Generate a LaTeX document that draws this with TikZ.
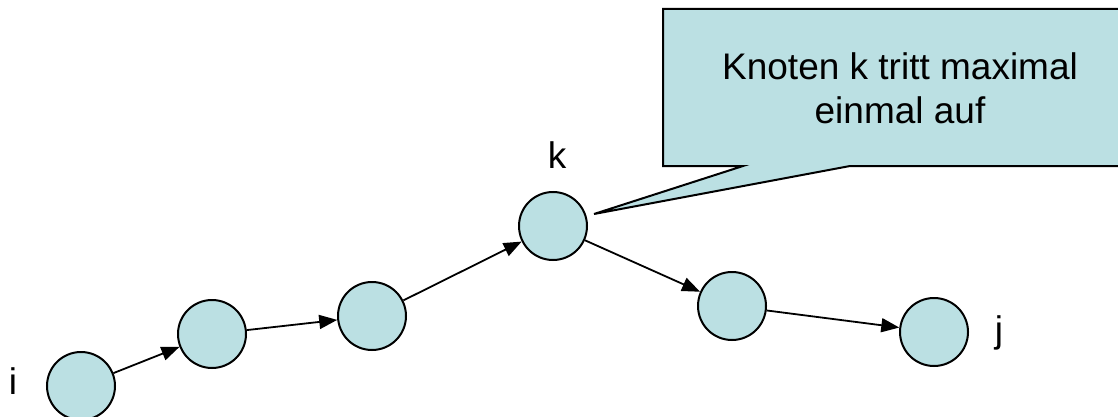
\documentclass[tikz,border=0pt]{standalone}
\usepackage{fontspec}
\setmainfont{Liberation Sans}
\usetikzlibrary{arrows.meta}
\definecolor{knotblue}{RGB}{187,224,227}
\begin{document}
\begin{tikzpicture}[x=0.5pt,y=-0.5pt,
    knot/.style={circle, draw, line width=1pt, fill=knotblue, minimum size=34pt, inner sep=0pt},
    kante/.style={line width=0.9pt, -{Triangle[length=9pt,width=7pt]}},
    lbl/.style={font=\fontsize{18.5}{22}\selectfont, anchor=base}]
                \useasboundingbox (0,0) rectangle (1118,417);
                \clip (0,0) rectangle (1118,417);

                % Sprechblase
                \coordinate (spitze) at (594,214);
                \filldraw[fill=knotblue, line width=1pt] (1130,9) -- (663,9) -- (663,166) -- (743,166) -- (spitze) -- (850,166) -- (1130,166) -- cycle;
                \node[font=\fontsize{18.5}{22}\selectfont, align=center] (text) at (900,88) {Knoten k tritt maximal\\einmal auf};

                % Knoten
                \node[knot] (i) at (81,386) {};
                \node[knot] (a) at (212,334) {};
                \node[knot] (b) at (372,316) {};
                \node[knot] (k) at (553,226) {};
                \node[knot] (c) at (732,306) {};
                \node[knot] (j) at (934,332) {};

                % Beschriftung
                \node[lbl] (li) at (13,394) {i};
                \node[lbl] (lk) at (557,169) {k};
                \node[lbl] (lj) at (999,342) {j};

                % Kanten
                \draw[kante] (i) -- (a);
                \draw[kante] (a) -- (b);
                \draw[kante] (b) -- (k);
                \draw[kante] (k) -- (c);
                \draw[kante] (c) -- (j);
            \end{tikzpicture}
\end{document}
